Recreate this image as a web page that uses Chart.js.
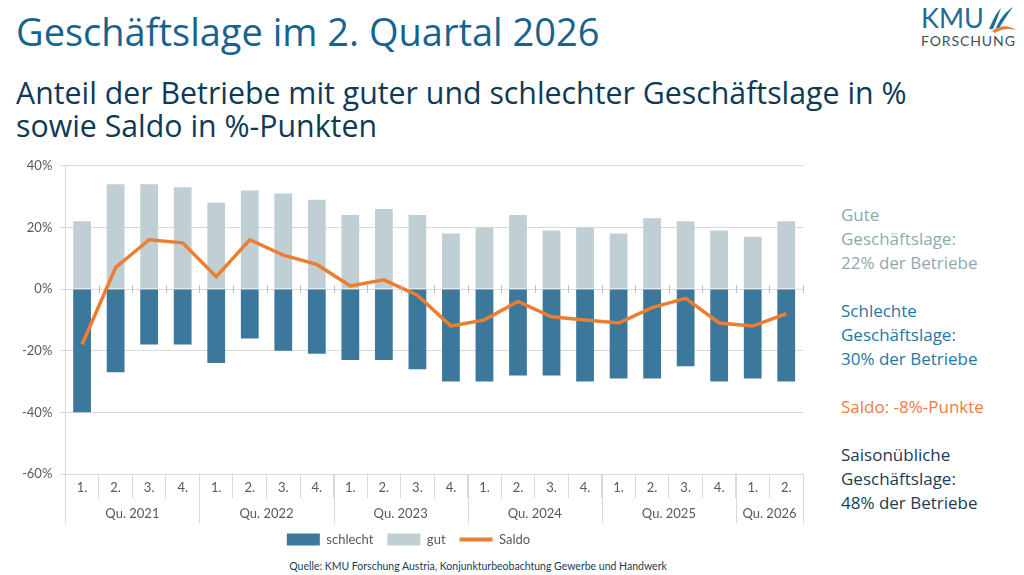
<!DOCTYPE html>
<html lang="de">
<head>
<meta charset="utf-8">
<script src="https://cdn.jsdelivr.net/npm/chart.js@4.4.1/dist/chart.umd.min.js"></script>
<style>
  body { margin: 0; width: 1024px; height: 575px; background: #fff; position: relative; overflow: hidden; font-family: "Open Sans", Lato, sans-serif; }
  #title { position: absolute; left: 16px; top: 5px; font-size: 38px; color: #17638e; white-space: nowrap; }
  #subtitle { position: absolute; left: 16px; top: 76px; font-size: 30.3px; line-height: 33px; color: #0e3a56; white-space: nowrap; }
  #logo { position: absolute; left: 921px; top: 3px; }
  #logo .kmu { font-size: 27px; color: #1f6e96; line-height: 30px; font-family: Lato, sans-serif; }
  #logo .fo { font-size: 14px; color: #3d4f5c; letter-spacing: 0.9px; line-height: 16px; font-family: Lato, sans-serif; }
  #logo svg { position: absolute; left: 66px; top: 3px; }
  #chartBox { position: absolute; left: 0; top: 150px; width: 820px; height: 406px; }
  #side { position: absolute; left: 841px; top: 203px; font-size: 17px; line-height: 24px; }
  #side p { margin: 0 0 24px 0; }
  #source { position: absolute; left: 0; width: 956px; top: 560px; text-align: center; font-size: 10.5px; color: #1a3c55; font-family: Lato, sans-serif; }
</style>
</head>
<body>
<div id="title">Geschäftslage im 2. Quartal 2026</div>
<div id="subtitle">Anteil der Betriebe mit guter und schlechter Geschäftslage in %<br>sowie Saldo in %-Punkten</div>
<div id="logo">
  <div class="kmu">KMU</div>
  <div class="fo">FORSCHUNG</div>
  <svg width="30" height="28" viewBox="0 0 30 28">
    <path d="M2 23 C6 14, 9 7, 14 2 C11 10, 9 16, 6 23 Z" fill="#1f6e96"/>
    <path d="M9 22 C13 13, 18 6, 26 1 C20 9, 16 16, 12 22 Z" fill="#1f6e96"/>
    <path d="M5 25 C13 19, 21 19, 29 24 C21 22, 14 23, 8 27 Z" fill="#ed7d31"/>
  </svg>
</div>
<div id="chartBox"><canvas id="chart"></canvas></div>
<div id="side">
  <p style="color:#8fa9b4">Gute<br>Geschäftslage:<br>22% der Betriebe</p>
  <p style="color:#2577a3">Schlechte<br>Geschäftslage:<br>30% der Betriebe</p>
  <p style="color:#f07c3c">Saldo: -8%-Punkte</p>
  <p style="color:#1a3c55">Saisonübliche<br>Geschäftslage:<br>48% der Betriebe</p>
</div>
<div id="source">Quelle: KMU Forschung Austria, Konjunkturbeobachtung Gewerbe und Handwerk</div>

<script>
// Quartale und Jahre
const quarters = ['1.', '2.', '3.', '4.', '1.', '2.', '3.', '4.', '1.', '2.', '3.', '4.',
                  '1.', '2.', '3.', '4.', '1.', '2.', '3.', '4.', '1.', '2.'];
const years = ['Qu. 2021', 'Qu. 2022', 'Qu. 2023', 'Qu. 2024', 'Qu. 2025', 'Qu. 2026'];

// Werte in %
const schlecht = [-40, -27, -18, -18, -24, -16, -20, -21, -23, -23, -26, -30,
                  -30, -28, -28, -30, -29, -29, -25, -30, -29, -30];
const gut = [22, 34, 34, 33, 28, 32, 31, 29, 24, 26, 24, 18,
             20, 24, 19, 20, 18, 23, 22, 19, 17, 22];
const saldo = [-18, 7, 16, 15, 4, 16, 11, 8, 1, 3, -2, -12,
               -10, -4, -9, -10, -11, -6, -3, -11, -12, -8];

const yTicks = [40, 20, 0, -20, -40, -60];

const gridColor = '#d9d9d9';
const tickColor = '#595959';
const axisFont = 'Lato, "Open Sans", sans-serif';

// Jahresgruppen unter der Achse + kleine Striche auf der 0-Linie
const groupPlugin = {
    id: 'groups',
    afterDraw(c) {
        const ctx = c.ctx;
        const x = c.scales.x;
        const y = c.scales.y;
        const bottom = c.chartArea.bottom;
        const half = (x.getPixelForValue(1) - x.getPixelForValue(0)) / 2;

        // Striche auf der 0-Linie
        const y0 = y.getPixelForValue(0);
        ctx.save();
        ctx.strokeStyle = '#bfbfbf';
        ctx.lineWidth = 1;
        for (let i = 1; i <= quarters.length; i++) {
            const px = Math.round(x.getPixelForValue(i) - half) + 0.5;
            ctx.beginPath();
            ctx.moveTo(px, y0 - 4);
            ctx.lineTo(px, y0 + 4);
            ctx.stroke();
        }

        // Jahresgrenzen
        const starts = [];
        quarters.forEach((q, i) => { if (q === '1.') starts.push(i); });
        const bounds = starts.concat([quarters.length]);
        ctx.strokeStyle = gridColor;
        bounds.forEach(i => {
            const px = Math.round(x.getPixelForValue(i) - half) + 0.5;
            ctx.beginPath();
            ctx.moveTo(px, bottom);
            ctx.lineTo(px, bottom + 49);
            ctx.stroke();
        });

        ctx.fillStyle = tickColor;
        ctx.font = '13px ' + axisFont;
        ctx.textAlign = 'center';
        ctx.textBaseline = 'middle';
        years.forEach((label, k) => {
            const a = x.getPixelForValue(bounds[k]) - half;
            const b = x.getPixelForValue(bounds[k + 1]) - half;
            ctx.fillText(label, (a + b) / 2, bottom + 40);
        });
        ctx.restore();
    }
};

const ctx = document.getElementById('chart').getContext('2d');
const chart = new Chart(ctx, {
    type: 'bar',
    data: {
        labels: quarters,
        datasets: [
            {
                label: 'schlecht',
                data: schlecht,
                backgroundColor: '#3c789c',
                grouped: false,
                categoryPercentage: 1,
                barPercentage: 0.53,
                order: 2
            },
            {
                label: 'gut',
                data: gut,
                backgroundColor: '#bfcfd4',
                grouped: false,
                categoryPercentage: 1,
                barPercentage: 0.53,
                order: 2
            },
            {
                type: 'line',
                label: 'Saldo',
                data: saldo,
                borderColor: '#ed7d31',
                backgroundColor: '#ed7d31',
                borderWidth: 3.5,
                pointRadius: 0,
                tension: 0,
                order: 0
            }
        ]
    },
    options: {
        responsive: true,
        maintainAspectRatio: false,
        animation: false,
        layout: { padding: { top: 8, right: 17, left: 14, bottom: 0 } },
        plugins: {
            tooltip: { enabled: false },
            legend: {
                position: 'bottom',
                labels: {
                    usePointStyle: true,
                    pointStyleWidth: 33,
                    boxHeight: 12,
                    color: tickColor,
                    font: { size: 13, family: axisFont },
                    padding: 14,
                    generateLabels(c) {
                        return c.data.datasets.map((ds, i) => ({
                            text: ds.label,
                            fillStyle: ds.backgroundColor,
                            strokeStyle: ds.type === 'line' ? ds.borderColor : ds.backgroundColor,
                            lineWidth: ds.type === 'line' ? 4 : 0,
                            pointStyle: ds.type === 'line' ? 'line' : 'rect',
                            fontColor: tickColor,
                            datasetIndex: i
                        }));
                    }
                }
            }
        },
        scales: {
            x: {
                grid: {
                    display: true,
                    drawOnChartArea: false,
                    offset: true,
                    tickLength: 24,
                    color: gridColor
                },
                border: { color: gridColor },
                ticks: {
                    color: tickColor,
                    font: { size: 13, family: axisFont },
                    padding: -18
                },
                afterFit(scale) { scale.height = 45; }
            },
            y: {
                min: -60,
                max: 40,
                afterBuildTicks(scale) { scale.ticks = yTicks.map(v => ({ value: v })); },
                grid: { color: gridColor, tickLength: 5 },
                border: { color: gridColor },
                ticks: {
                    color: tickColor,
                    font: { size: 13, family: axisFont },
                    padding: 8,
                    callback: v => v + '%'
                }
            }
        }
    },
    plugins: [groupPlugin]
});
</script>
</body>
</html>
